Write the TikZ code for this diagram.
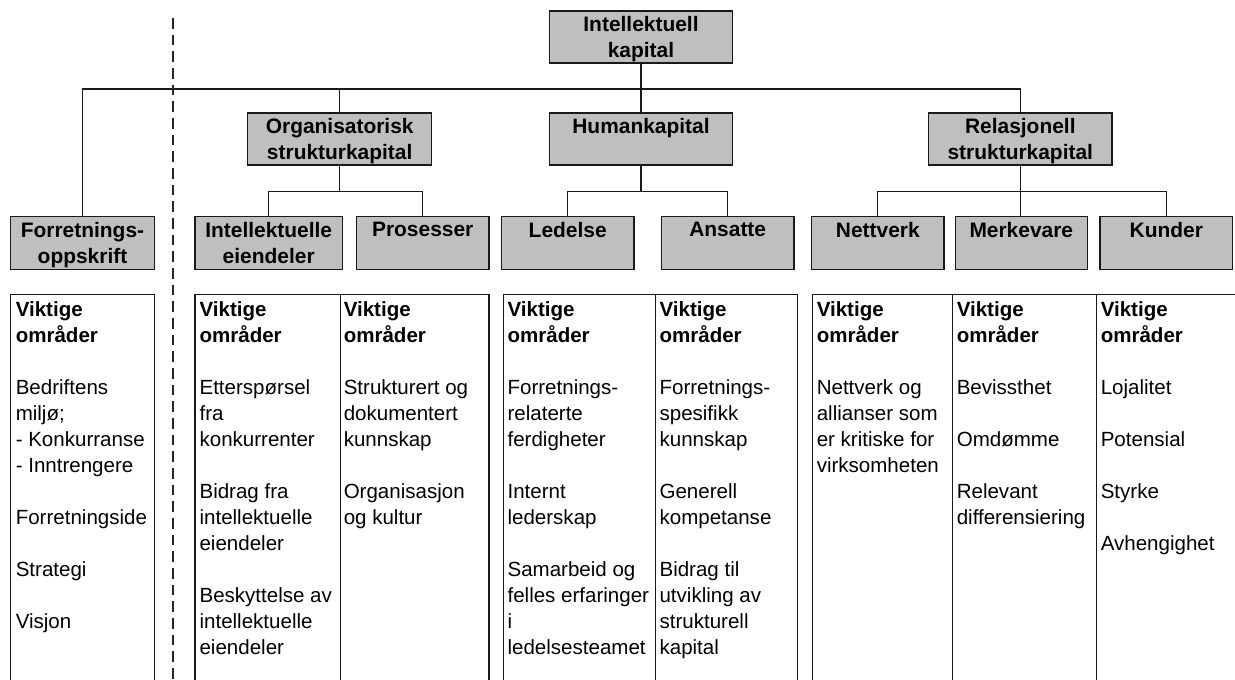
\documentclass[tikz,border=0pt]{standalone}
\usepackage{fontspec}
\setmainfont{Liberation Sans}
\newcommand\myfs{\fontsize{15.4pt}{19.5pt}\selectfont}
\newcommand\mybfs{\fontsize{15.7pt}{19.5pt}\selectfont}
\begin{document}
\begin{tikzpicture}[x=0.75pt,y=-0.75pt,
  gbox/.style 2 args={draw=black!90, fill=black!25, line width=1.1pt, inner sep=0pt,
    minimum width=#1*0.75pt, minimum height=#2*0.75pt},
  lbl/.style={font=\mybfs\bfseries, align=center, inner sep=0pt, anchor=north},
  conn/.style={line width=1pt, black!90},
  panel/.style={line width=1pt, black!90},
  ptext/.style={font=\myfs, align=left, inner sep=0pt, anchor=north west},
  dashline/.style={line width=1.6pt, black!85, dash pattern=on 8pt off 4.5pt}]
\useasboundingbox (0,0) rectangle (1235,679);

% top level
\node[gbox={183.4}{52}] (IK) at (641,37) {};
\node[gbox={184}{52}] (OSK) at (339.7,139) {};
\node[gbox={183.4}{52}] (HK) at (641,139) {};
\node[gbox={183.3}{52}] (RSK) at (1020.3,139) {};

% second level
\node[gbox={143.6}{52.8}] (FO) at (82.5,243.1) {};
\node[gbox={147.3}{52.8}] (IE) at (268.7,243.1) {};
\node[gbox={132.7}{52.8}] (PR) at (422.7,243.1) {};
\node[gbox={132.7}{52.8}] (LE) at (567.7,243.1) {};
\node[gbox={132.7}{52.8}] (AN) at (727.7,243.1) {};
\node[gbox={132.3}{52.8}] (NE) at (877.8,243.1) {};
\node[gbox={132}{52.8}] (ME) at (1021.3,243.1) {};
\node[gbox={132.7}{52.8}] (KU) at (1166.3,243.1) {};

% labels
\foreach \b/\t in {IK/{Intellektuell\\kapital}, OSK/{Organisatorisk\\strukturkapital},
  HK/{Humankapital}, RSK/{Relasjonell\\strukturkapital}, FO/{Forretnings-\\oppskrift},
  IE/{Intellektuelle\\eiendeler}, PR/{Prosesser}, LE/{Ledelse}, AN/{Ansatte},
  NE/{Nettverk}, ME/{Merkevare}, KU/{Kunder}}
  \node[lbl] (\b-t) at ([yshift=-4.7pt]\b.north) {\t};

% connectors
\coordinate (hT) at (0,89);
\draw[conn] (IK.south) -- (HK.north);
\draw[conn] (FO.north) |- (RSK.north |- hT) -- (RSK.north);
\draw[conn] (OSK.north |- hT) -- (OSK.north);
\draw[conn] (OSK.south) -- ++(0,26) coordinate (jO);
\draw[conn] (IE.north) |- (jO) -| (PR.north);
\draw[conn] (HK.south) -- ++(0,26) coordinate (jH);
\draw[conn] (LE.north) |- (jH) -| (AN.north);
\draw[conn] (RSK.south) -- ++(0,26) coordinate (jR);
\draw[conn] (NE.north) |- (jR) -| (KU.north);
\draw[conn] (jR) -- (jR |- ME.north);

% dashed separator
\coordinate (dTop) at (173.3,18);
\coordinate (dBot) at (173.3,679);
\draw[dashline] (dTop) -- (dBot);

% panels
\draw[panel] (10.7,681) |- (154.3,294.5) -- (154.3,681);
\draw[panel] (195,681) |- (489,294.5) -- (489,681);
\draw[panel] (340.3,294.5) -- (340.3,681);
\draw[panel] (503.3,681) |- (797.3,294.5) -- (797.3,681);
\draw[panel] (655.3,294.5) -- (655.3,681);
\draw[panel] (812.3,681) |- (1236,294.5);
\draw[panel] (952.3,294.5) -- (952.3,681);
\draw[panel] (1096.3,294.5) -- (1096.3,681);

% panel texts
\node[ptext] (tFO) at (15.5,301) {\textbf{Viktige}\\\textbf{områder}\\ \\Bedriftens\\miljø;\\- Konkurranse\\- Inntrengere\\ \\Forretningside\\ \\Strategi\\ \\Visjon};
\node[ptext] (tIE) at (199.3,301) {\textbf{Viktige}\\\textbf{områder}\\ \\Etterspørsel\\fra\\konkurrenter\\ \\Bidrag fra\\intellektuelle\\eiendeler\\ \\Beskyttelse av\\intellektuelle\\eiendeler};
\node[ptext] (tPR) at (343.5,301) {\textbf{Viktige}\\\textbf{områder}\\ \\Strukturert og\\dokumentert\\kunnskap\\ \\Organisasjon\\og kultur};
\node[ptext] (tLE) at (507.3,301) {\textbf{Viktige}\\\textbf{områder}\\ \\Forretnings-\\relaterte\\ferdigheter\\ \\Internt\\lederskap\\ \\Samarbeid og\\felles erfaringer\\i\\ledelsesteamet};
\node[ptext] (tAN) at (659.3,301) {\textbf{Viktige}\\\textbf{områder}\\ \\Forretnings-\\spesifikk\\kunnskap\\ \\Generell\\kompetanse\\ \\Bidrag til\\utvikling av\\strukturell\\kapital};
\node[ptext] (tNE) at (816.5,301) {\textbf{Viktige}\\\textbf{områder}\\ \\Nettverk og\\allianser som\\er kritiske for\\virksomheten};
\node[ptext] (tME) at (956.5,301) {\textbf{Viktige}\\\textbf{områder}\\ \\Bevissthet\\ \\Omdømme\\ \\Relevant\\differensiering};
\node[ptext] (tKU) at (1100.5,301) {\textbf{Viktige}\\\textbf{områder}\\ \\Lojalitet\\ \\Potensial\\ \\Styrke\\ \\Avhengighet};
\end{tikzpicture}
\end{document}
